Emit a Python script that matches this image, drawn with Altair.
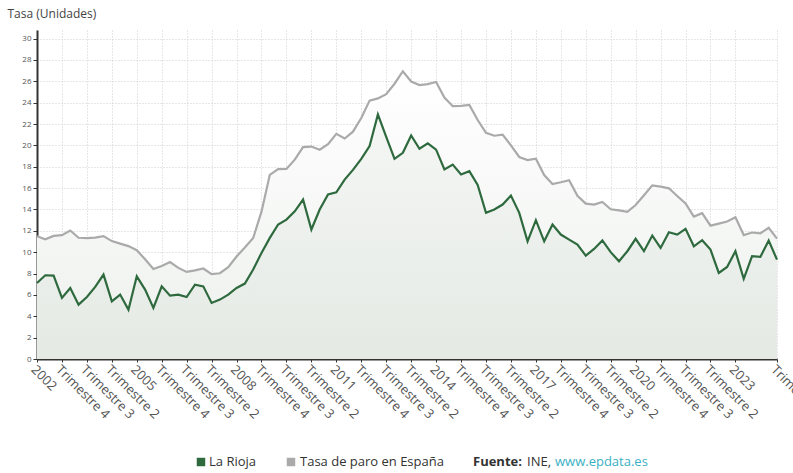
import json
import altair as alt
import pandas as pd

# Quarterly periods 2002 T1 .. 2024 T2 (index 0..89)
years = list(range(2002, 2025))
quarters = [1, 2, 3, 4]
periods = [f"{y} T{q}" for y in years for q in quarters][:90]

la_rioja = [
    7.12, 7.84, 7.80, 5.72, 6.65, 5.09, 5.80, 6.75, 7.90, 5.40,
    6.03, 4.62, 7.74, 6.50, 4.78, 6.80, 5.93, 6.03, 5.80, 6.96,
    6.80, 5.25, 5.56, 6.03, 6.65, 7.06, 8.37, 9.93, 11.34, 12.59,
    13.05, 13.83, 14.93, 12.12, 14.00, 15.40, 15.60, 16.80, 17.70, 18.74,
    19.93, 22.90, 20.80, 18.74, 19.30, 20.93, 19.68, 20.18, 19.60, 17.74,
    18.20, 17.27, 17.58, 16.30, 13.68, 14.00, 14.46, 15.30, 13.68, 11.02,
    13.00, 11.02, 12.59, 11.65, 11.18, 10.71, 9.68, 10.30, 11.10, 10.00,
    9.15, 10.09, 11.25, 10.09, 11.56, 10.40, 11.87, 11.65, 12.18, 10.55,
    11.12, 10.24, 8.06, 8.62, 10.09, 7.50, 9.62, 9.56, 11.09, 9.30,
]

espana = [
    11.49, 11.21, 11.52, 11.59, 12.03, 11.35, 11.32, 11.37, 11.51, 11.04,
    10.80, 10.57, 10.19, 9.33, 8.42, 8.70, 9.07, 8.53, 8.15, 8.30,
    8.47, 7.95, 8.03, 8.60, 9.60, 10.44, 11.33, 13.79, 17.24, 17.77,
    17.79, 18.66, 19.84, 19.89, 19.59, 20.11, 21.08, 20.64, 21.28, 22.56,
    24.19, 24.40, 24.79, 25.77, 26.94, 25.98, 25.65, 25.73, 25.93, 24.47,
    23.67, 23.70, 23.78, 22.37, 21.18, 20.90, 21.00, 20.00, 18.91, 18.63,
    18.75, 17.22, 16.38, 16.55, 16.74, 15.28, 14.55, 14.45, 14.70, 14.02,
    13.92, 13.78, 14.41, 15.33, 16.26, 16.13, 15.98, 15.26, 14.57, 13.33,
    13.65, 12.48, 12.67, 12.87, 13.26, 11.60, 11.84, 11.76, 12.29, 11.27,
]

tick_index = [0, 3, 6, 9, 12, 15, 18, 21, 24, 27, 30, 33, 36, 39, 42, 45, 48, 51,
              54, 57, 60, 63, 66, 69, 72, 75, 78, 81, 84, 89]
tick_labels = ["2002", "Trimestre 4", "Trimestre 3", "Trimestre 2",
               "2005", "Trimestre 4", "Trimestre 3", "Trimestre 2",
               "2008", "Trimestre 4", "Trimestre 3", "Trimestre 2",
               "2011", "Trimestre 4", "Trimestre 3", "Trimestre 2",
               "2014", "Trimestre 4", "Trimestre 3", "Trimestre 2",
               "2017", "Trimestre 4", "Trimestre 3", "Trimestre 2",
               "2020", "Trimestre 4", "Trimestre 3", "Trimestre 2",
               "2023", "Trimestre 2"]
y_ticks = list(range(0, 31, 2))

series_names = ["La Rioja", "Tasa de paro en España"]
series_colors = ["#2e6a3e", "#aaaaaa"]

source_bold = ["Fuente:"]
source_plain = ["INE,", "www.epdata.es"]
source_plain_colors = ["#333333", "#3ab0c4"]

rows = []
for i, p in enumerate(periods):
    rows.append({"i": i, "periodo": p, "serie": series_names[0], "valor": la_rioja[i]})
    rows.append({"i": i, "periodo": p, "serie": series_names[1], "valor": espana[i]})
df = pd.DataFrame(rows)

FONT = "Open Sans"
label_expr = (f"{json.dumps(tick_labels)}[indexof({json.dumps(tick_index)}, datum.value)]")

x_enc = alt.X("i:Q",
              scale=alt.Scale(domain=[0, 89], nice=False, zero=False),
              axis=alt.Axis(values=tick_index, tickCount=200, labelExpr=label_expr,
                            labelAngle=45, labelAlign="left", labelBaseline="top",
                            labelFontSize=13, labelColor="#555555", labelFont=FONT,
                            labelPadding=1, tickSize=3, tickColor="#333333",
                            domainColor="#333333", domainWidth=2, grid=True,
                            gridColor="#cfcfcf", gridDash=[1, 2], title=None,
                            labelOverlap=False, labelBound=False, labelFlush=False))
y_enc = alt.Y("valor:Q",
              scale=alt.Scale(domain=[0, 30.8], nice=False),
              axis=alt.Axis(values=y_ticks, tickCount=200, labelOverlap=False,
                            format="d", labelFontSize=8, labelColor="#555555",
                            labelFont=FONT, tickSize=4, tickColor="#333333",
                            domainColor="#333333", domainWidth=2, grid=True,
                            gridColor="#cfcfcf", gridDash=[1, 2],
                            title="Tasa (Unidades)", titleAngle=0, titleAlign="left",
                            titleBaseline="middle", titleX=-30, titleY=-17,
                            titleFont=FONT, titleFontSize=12, titleFontWeight="normal",
                            titleColor="#444444"))

base = alt.Chart(df)

area_es = base.transform_filter(alt.datum.serie == series_names[1]).mark_area(
    color=alt.Gradient(gradient="linear", x1=0, y1=0, x2=0, y2=1,
                       stops=[alt.GradientStop(color="#ffffff", offset=0),
                              alt.GradientStop(color="#edf0ed", offset=1)])
).encode(x=x_enc, y=y_enc)

area_lr = base.transform_filter(alt.datum.serie == series_names[0]).mark_area(
    color=alt.Gradient(gradient="linear", x1=0, y1=0, x2=0, y2=1,
                       stops=[alt.GradientStop(color="#f3f5f3", offset=0),
                              alt.GradientStop(color="#e2e8e2", offset=1)]),
    opacity=0.8
).encode(x="i:Q", y="valor:Q")

lines = base.mark_line(strokeWidth=2.2).encode(
    x="i:Q", y="valor:Q",
    color=alt.Color("serie:N",
                    scale=alt.Scale(domain=series_names, range=series_colors),
                    legend=None),
    order="i:Q",
)

# Manual legend (below the chart)
leg_df = pd.DataFrame({"serie": series_names, "c": series_colors,
                       "sx": [164, 254], "tx": [172, 263]})
leg_sym = alt.Chart(leg_df).mark_square(size=72, opacity=1).encode(
    x=alt.X("sx:Q", scale=None), y=alt.value(432),
    color=alt.Color("c:N", scale=None))
leg_txt = alt.Chart(leg_df).mark_text(align="left", baseline="middle", font=FONT,
                                      fontSize=13, color="#333333").encode(
    x=alt.X("tx:Q", scale=None), y=alt.value(432), text="serie:N")

bold_df = pd.DataFrame({"t": source_bold, "px": [436]})
plain_df = pd.DataFrame({"t": source_plain, "c": source_plain_colors, "px": [490, 518]})

src_bold = alt.Chart(bold_df).mark_text(align="left", baseline="middle", font=FONT,
                                        fontSize=13, fontWeight="bold",
                                        color="#333333").encode(
    x=alt.X("px:Q", scale=None), y=alt.value(432), text="t:N")
src_plain = alt.Chart(plain_df).mark_text(align="left", baseline="middle", font=FONT,
                                          fontSize=13).encode(
    x=alt.X("px:Q", scale=None), y=alt.value(432), text="t:N",
    color=alt.Color("c:N", scale=None))

chart = alt.layer(area_es, area_lr, lines, leg_sym, leg_txt, src_bold, src_plain).properties(
    width=740, height=329,
    autosize=alt.AutoSizeParams(type="none"),
    padding={"left": 37, "top": 30, "right": 16, "bottom": 114},
    background="white",
).configure_view(stroke=None)

chart.save("out.html", embed_options={"renderer": "svg", "actions": False})
